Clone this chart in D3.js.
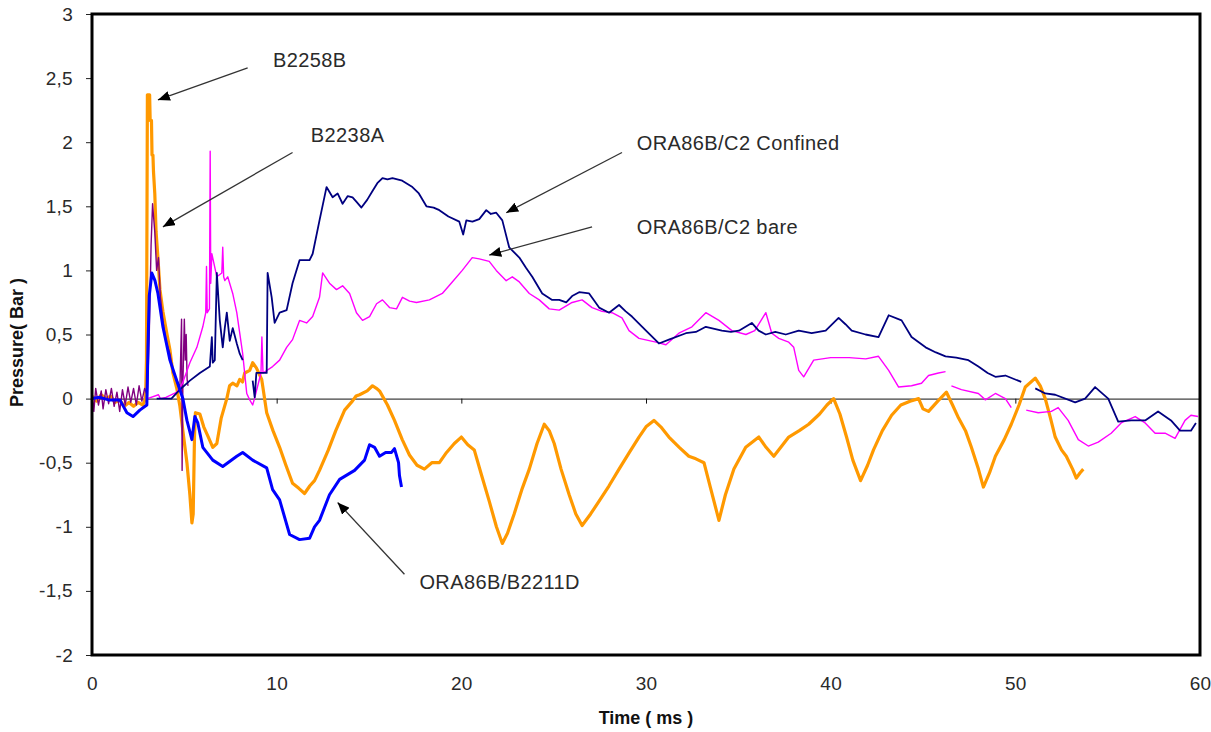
<!DOCTYPE html>
<html>
<head>
<meta charset="utf-8">
<script src="https://cdn.jsdelivr.net/npm/d3@7"></script>
<style>
  body { margin: 0; background: #fff; }
  svg { display: block; font-family: "Liberation Sans", Arial, sans-serif; }
</style>
</head>
<body>
<svg id="chart" width="1211" height="732"></svg>
<script>
// Time axis (ms) and pressure axis (bar) ticks
const timeTicks = [0, 10, 20, 30, 40, 50, 60];
const pressureTicks = [-2, -1.5, -1, -0.5, 0, 0.5, 1, 1.5, 2, 2.5, 3];

// Pressure records: [time ms, pressure bar]; null marks a gap in the record
const b2258b = [
  [0,0.02],[0.25,-0.02],[0.5,0.03],[0.75,0.0],[1.0,0.02],[1.25,-0.03],[1.5,-0.01],[1.75,-0.06],[2.0,-0.03],
  [2.25,-0.06],[2.5,-0.03],[2.75,-0.05],[2.9,0.0],[2.95,0.3],[3.0,2.37],[3.12,2.37],[3.15,2.17],[3.22,2.17],
  [3.25,1.9],[3.3,1.9],[3.33,1.77],[3.4,1.6],[3.47,1.3],[3.57,1.1],[3.68,0.85],[3.84,0.68],[4.05,0.51],
  [4.22,0.38],[4.38,0.2],[4.59,0.08],[4.76,-0.06],[4.92,-0.25],[5.14,-0.5],[5.3,-0.75],[5.41,-0.97],
  [5.48,-0.9],[5.55,-0.3],[5.6,-0.11],[5.84,-0.12],[6.05,-0.22],[6.3,-0.3],[6.54,-0.38],[6.76,-0.35],
  [7.0,-0.15],[7.3,0.0],[7.45,0.1],[7.62,0.12],[7.85,0.1],[8.0,0.15],[8.15,0.13],[8.27,0.2],[8.54,0.22],
  [8.7,0.28],[8.9,0.24],[9.19,0.15],[9.46,-0.11],[9.8,-0.25],[10.16,-0.38],[10.5,-0.52],[10.86,-0.66],
  [11.2,-0.7],[11.51,-0.74],[11.8,-0.68],[12.05,-0.64],[12.32,-0.56],[12.8,-0.4],[13.2,-0.25],[13.68,-0.09],
  [14.1,-0.02],[14.3,0.02],[14.49,0.03],[14.9,0.06],[15.19,0.1],[15.4,0.08],[15.57,0.06],[16.0,-0.05],
  [16.38,-0.17],[16.8,-0.32],[17.19,-0.44],[17.6,-0.52],[18.0,-0.55],[18.4,-0.5],[18.81,-0.5],[19.2,-0.42],
  [19.62,-0.35],[20.0,-0.3],[20.35,-0.36],[20.7,-0.4],[21.1,-0.6],[21.51,-0.8],[21.9,-1.0],[22.22,-1.13],
  [22.5,-1.05],[22.86,-0.9],[23.3,-0.7],[23.68,-0.55],[24.1,-0.35],[24.49,-0.2],[24.76,-0.25],[25.03,-0.35],
  [25.4,-0.55],[25.84,-0.75],[26.2,-0.9],[26.54,-0.99],[27.0,-0.9],[27.46,-0.8],[28.0,-0.68],[28.54,-0.55],
  [29.1,-0.42],[29.62,-0.3],[30.0,-0.22],[30.43,-0.17],[30.8,-0.22],[31.24,-0.3],[31.8,-0.38],[32.32,-0.45],
  [32.7,-0.47],[33.14,-0.5],[33.5,-0.7],[33.95,-0.95],[34.3,-0.75],[34.76,-0.55],[35.4,-0.38],[36.11,-0.3],
  [36.5,-0.38],[36.92,-0.45],[37.3,-0.38],[37.73,-0.3],[38.3,-0.25],[38.81,-0.2],[39.4,-0.12],[39.8,-0.05],
  [40.16,0.0],[40.5,-0.12],[40.86,-0.3],[41.2,-0.48],[41.62,-0.64],[42.0,-0.52],[42.32,-0.4],[42.8,-0.25],
  [43.3,-0.13],[43.8,-0.05],[44.3,-0.02],[44.76,0.0],[45.0,-0.08],[45.3,-0.1],[45.8,-0.02],[46.27,0.05],
  [46.6,-0.05],[46.92,-0.15],[47.3,-0.25],[47.62,-0.38],[48.0,-0.55],[48.27,-0.69],[48.6,-0.58],[48.92,-0.45],
  [49.4,-0.32],[49.78,-0.2],[50.2,-0.05],[50.54,0.09],[51.08,0.16],[51.35,0.1],[51.62,0.0],[51.9,-0.15],
  [52.16,-0.3],[52.5,-0.4],[52.76,-0.45],[53.1,-0.55],[53.3,-0.62],[53.5,-0.58],[53.68,-0.55]
];

const b2238a = [
  [0,0.05],[0.1,-0.1],[0.2,0.08],[0.35,-0.05],[0.5,0.06],[0.6,-0.08],[0.75,0.07],[0.9,-0.04],[1.05,0.08],
  [1.2,-0.06],[1.35,0.05],[1.5,-0.1],[1.65,0.07],[1.8,-0.05],[1.95,0.09],[2.1,-0.03],[2.25,0.08],[2.4,-0.05],
  [2.55,0.1],[2.7,-0.02],[2.85,0.08],[3.0,0.02],[3.1,0.5],[3.2,1.2],[3.28,1.52],[3.4,1.3],[3.5,1.0],
  [3.6,1.1],[3.7,0.8],[3.84,0.61],[4.0,0.45],[4.22,0.35],[4.4,0.2],[4.59,0.15],[4.76,0.08],[4.85,0.62],
  [4.88,-0.56],[4.92,0.1],[5.0,0.62],[5.05,0.3],[5.1,0.5],[5.15,0.15],[5.2,0.1]
];

const b2211d = [
  [0,0.0],[0.43,0.01],[0.9,-0.01],[1.51,-0.01],[1.89,-0.11],[2.22,-0.14],[2.59,-0.09],[2.97,-0.05],
  [3.03,0.4],[3.1,0.8],[3.24,0.98],[3.41,0.92],[3.57,0.82],[3.84,0.56],[4.22,0.3],[4.59,0.14],[4.92,0.0],
  [5.14,-0.17],[5.41,-0.32],[5.57,-0.14],[5.73,-0.19],[6.0,-0.38],[6.54,-0.48],[7.08,-0.53],[7.84,-0.45],
  [8.16,-0.42],[8.7,-0.48],[9.46,-0.54],[9.78,-0.71],[10.16,-0.79],[10.7,-1.06],[11.24,-1.1],[11.78,-1.09],
  [12.05,-1.0],[12.32,-0.95],[12.86,-0.75],[13.41,-0.63],[14.22,-0.56],[14.76,-0.48],[15.03,-0.36],
  [15.3,-0.38],[15.57,-0.45],[15.9,-0.42],[16.22,-0.42],[16.38,-0.39],[16.6,-0.5],[16.65,-0.6],[16.76,-0.69]
];

const c2Confined = [
  [3.5,0.0],[4.3,0.0],[4.76,0.07],[5.3,0.14],[5.84,0.2],[6.38,0.25],[6.49,0.48],[6.54,0.28],[6.65,0.3],
  [6.76,0.98],[6.92,0.61],[7.08,0.4],[7.19,0.55],[7.3,0.67],[7.46,0.45],[7.62,0.55],[7.84,0.43],[8.0,0.35],
  [8.16,0.3],null,[8.7,0.14],[8.81,0.01],[8.9,0.2],[9.19,0.2],[9.46,0.2],[9.51,0.98],[9.73,0.79],[9.89,0.59],
  [10.16,0.67],[10.54,0.69],[10.86,0.9],[11.24,1.08],[11.78,1.08],[11.95,1.13],[12.32,1.39],[12.7,1.65],
  [13.03,1.57],[13.3,1.6],[13.57,1.52],[13.85,1.58],[14.11,1.57],[14.35,1.53],[14.59,1.49],[14.9,1.55],
  [15.19,1.62],[15.45,1.68],[15.73,1.72],[16.0,1.71],[16.27,1.72],[16.8,1.7],[17.35,1.65],[17.7,1.6],
  [18.11,1.5],[18.5,1.49],[18.81,1.47],[19.3,1.42],[19.89,1.38],[20.1,1.28],[20.27,1.39],[20.6,1.38],
  [20.97,1.4],[21.35,1.47],[21.6,1.44],[21.89,1.45],[22.22,1.39],[22.59,1.18],[23.14,1.1],[23.5,1.02],
  [23.84,0.95],[24.38,0.82],[24.92,0.77],[25.3,0.77],[25.68,0.75],[26.0,0.8],[26.38,0.83],[26.92,0.82],
  [27.46,0.71],[28.0,0.67],[28.54,0.73],[28.9,0.68],[29.24,0.64],[30.0,0.53],[30.7,0.43],[31.24,0.46],
  [32.16,0.51],[32.7,0.52],[33.24,0.56],[34.11,0.53],[34.6,0.52],[35.03,0.53],[35.73,0.59],[36.1,0.53],
  [36.49,0.5],[37.0,0.52],[37.57,0.5],[38.27,0.53],[38.97,0.51],[39.73,0.53],[40.43,0.63],[40.8,0.58],
  [41.14,0.53],[41.89,0.5],[42.59,0.48],[43.14,0.65],[43.84,0.61],[44.38,0.48],[45.14,0.4],[45.7,0.36],
  [46.22,0.33],[46.8,0.32],[47.46,0.3],[48.0,0.25],[48.5,0.2],[48.92,0.17],[49.46,0.18],[50.32,0.13],
  null,[51.08,0.08],[51.62,0.04],[52.16,0.03],[53.24,-0.03],[53.78,0.0],[54.32,0.09],[55.03,0.0],
  [55.57,-0.18],[56.27,-0.17],[57.03,-0.17],[57.73,-0.1],[58.43,-0.17],[58.92,-0.25],[59.51,-0.25],[59.78,-0.19]
];

const c2Bare = [
  [3.0,0.0],[3.6,0.03],[3.7,0.0],[4.0,0.01],[4.6,0.05],[4.9,0.12],[5.3,0.28],[5.68,0.4],[6.0,0.56],
  [6.16,0.67],[6.2,1.03],[6.24,0.67],[6.36,0.7],[6.4,1.93],[6.43,0.9],[6.49,1.13],[6.76,0.95],[7.03,0.98],
  [7.08,1.18],[7.13,0.95],[7.19,0.92],[7.35,0.95],[7.62,0.82],[7.84,0.67],[8.0,0.51],[8.16,0.35],
  [8.38,0.04],[8.54,-0.01],[8.7,-0.05],[8.8,0.0],[9.15,0.2],[9.2,0.48],[9.26,0.2],[9.78,0.25],[10.16,0.3],
  [10.54,0.4],[10.86,0.46],[11.24,0.61],[11.62,0.59],[11.95,0.64],[12.32,0.79],[12.49,0.98],[12.86,0.9],
  [13.24,0.85],[13.57,0.88],[13.95,0.82],[14.32,0.67],[14.65,0.61],[15.03,0.64],[15.41,0.74],[15.73,0.77],
  [16.11,0.71],[16.49,0.7],[16.81,0.79],[17.2,0.76],[17.57,0.75],[18.27,0.77],[18.97,0.82],[19.51,0.91],
  [20.05,1.0],[20.59,1.1],[20.97,1.09],[21.51,1.07],[21.89,1.0],[22.43,0.92],[22.76,0.95],[23.14,0.91],
  [23.68,0.82],[24.22,0.77],[24.76,0.7],[25.3,0.69],[26.0,0.75],[26.54,0.77],[27.08,0.71],[27.62,0.68],
  [28.16,0.67],[28.7,0.63],[29.08,0.53],[29.62,0.47],[30.54,0.44],[31.08,0.42],[31.78,0.51],[32.49,0.56],
  [33.24,0.67],[33.95,0.61],[34.65,0.53],[35.41,0.5],[35.89,0.53],[36.49,0.67],[36.81,0.51],[37.19,0.47],
  [37.73,0.44],[38.0,0.4],[38.27,0.22],[38.54,0.17],[39.08,0.3],[40.0,0.32],[41.0,0.32],[41.9,0.31],
  [42.59,0.33],[43.14,0.22],[43.68,0.09],[44.38,0.1],[44.92,0.12],[45.3,0.18],[45.84,0.2],[46.22,0.21],null,
  [46.54,0.1],[47.08,0.07],[48.0,0.04],[48.38,-0.01],[48.92,0.04],[49.46,0.0],[49.78,-0.07],null,
  [50.59,-0.09],[51.24,-0.11],[51.95,-0.1],[52.32,-0.07],[52.86,-0.17],[53.41,-0.32],[53.95,-0.37],
  [54.49,-0.34],[55.19,-0.27],[55.73,-0.19],[56.49,-0.14],[57.03,-0.19],[57.57,-0.27],[58.11,-0.27],
  [58.65,-0.31],[59.19,-0.17],[59.51,-0.13],[59.89,-0.14]
];

// Callout labels: text anchor point and arrow (from -> tip), all in data units
const callouts = [
  { label: "B2258B",             text: [9.8, 2.64],    from: [8.43, 2.58],   to: [3.57, 2.33] },
  { label: "B2238A",             text: [11.85, 2.06],  from: [10.86, 1.92],  to: [3.84, 1.34] },
  { label: "ORA86B/C2 Confined", text: [29.5, 1.99],   from: [28.7, 1.92],   to: [22.43, 1.45] },
  { label: "ORA86B/C2 bare",     text: [29.5, 1.34],   from: [27.08, 1.34],  to: [21.51, 1.12] },
  { label: "ORA86B/B2211D",      text: [17.73, -1.43], from: [16.92, -1.37], to: [13.3, -0.81] }
];

// ---- drawing ----
const svg = d3.select("#chart");
const plot = { left: 92, top: 14, right: 1200, bottom: 655 };
const fontFamily = '"Liberation Sans", Arial, sans-serif';

const x = d3.scaleLinear().domain([0, 60]).range([plot.left, plot.right]);
const y = d3.scaleLinear().domain([-2, 3]).range([plot.bottom, plot.top]);
const commaFmt = d => String(d).replace(".", ",");

// Y axis with outside ticks
const yAxis = svg.append("g")
  .attr("transform", `translate(${plot.left},0)`)
  .call(d3.axisLeft(y).tickValues(pressureTicks).tickSize(6).tickPadding(13).tickFormat(commaFmt));
yAxis.select(".domain").remove();
yAxis.selectAll("line").attr("stroke", "#222");
yAxis.selectAll("text").attr("font-size", 19).attr("fill", "#2a2a2a")
  .attr("font-family", fontFamily).attr("letter-spacing", 0.3);

// X tick labels along the bottom of the plot
const xAxis = svg.append("g")
  .attr("transform", `translate(0,${plot.bottom})`)
  .call(d3.axisBottom(x).tickValues(timeTicks).tickSize(0).tickPadding(22).tickFormat(d3.format("d")));
xAxis.select(".domain").remove();
xAxis.selectAll("text").attr("font-size", 19).attr("fill", "#2a2a2a")
  .attr("font-family", fontFamily).attr("letter-spacing", 0.3);

// Zero-pressure axis line with its tick marks
const zeroAxis = svg.append("g")
  .attr("transform", `translate(0,${y(0)})`)
  .call(d3.axisBottom(x).tickValues(timeTicks.slice(1, -1)).tickSize(5).tickSizeOuter(0).tickFormat(""));
zeroAxis.select(".domain").attr("stroke", "#111").attr("stroke-width", 1);
zeroAxis.selectAll("line").attr("stroke", "#111");

// Traces
const line = d3.line()
  .defined(d => d !== null)
  .x(d => x(d[0]))
  .y(d => y(d[1]));

const traces = [
  { data: b2258b,     color: "#FF9900", width: 3.2 },
  { data: b2238a,     color: "#800080", width: 1.4 },
  { data: c2Bare,     color: "#FF00FF", width: 1.4 },
  { data: c2Confined, color: "#000080", width: 1.8 },
  { data: b2211d,     color: "#0000FF", width: 3.0 }
];

svg.append("clipPath").attr("id", "plotclip").append("rect")
  .attr("x", plot.left).attr("y", plot.top)
  .attr("width", plot.right - plot.left).attr("height", plot.bottom - plot.top);

const traceLayer = svg.append("g").attr("clip-path", "url(#plotclip)");
traces.forEach(t => {
  traceLayer.append("path")
    .datum(t.data)
    .attr("d", line)
    .attr("fill", "none")
    .attr("stroke", t.color)
    .attr("stroke-width", t.width)
    .attr("stroke-linejoin", "round");
});

// Plot frame
svg.append("rect")
  .attr("x", plot.left).attr("y", plot.top)
  .attr("width", plot.right - plot.left).attr("height", plot.bottom - plot.top)
  .attr("fill", "none").attr("stroke", "#000").attr("stroke-width", 3);

// Arrow heads
svg.append("defs").append("marker")
  .attr("id", "arrowhead")
  .attr("viewBox", "0 0 12 10")
  .attr("refX", 12).attr("refY", 5)
  .attr("markerWidth", 12).attr("markerHeight", 10)
  .attr("markerUnits", "userSpaceOnUse")
  .attr("orient", "auto")
  .append("path").attr("d", "M0,0 L12,5 L0,10 Z").attr("fill", "#000");

const notes = svg.append("g");
callouts.forEach(c => {
  notes.append("line")
    .attr("x1", x(c.from[0])).attr("y1", y(c.from[1]))
    .attr("x2", x(c.to[0])).attr("y2", y(c.to[1]))
    .attr("stroke", "#333").attr("stroke-width", 1.3)
    .attr("marker-end", "url(#arrowhead)");
  notes.append("text")
    .attr("x", x(c.text[0])).attr("y", y(c.text[1]))
    .attr("dy", "0.35em")
    .attr("font-size", 20).attr("letter-spacing", 0.4).attr("fill", "#2a2a2a")
    .text(c.label);
});

// Axis titles
svg.append("text")
  .attr("x", (plot.left + plot.right) / 2).attr("y", 724)
  .attr("text-anchor", "middle")
  .attr("font-size", 18).attr("font-weight", "bold").attr("fill", "#111")
  .text("Time ( ms )");

svg.append("text")
  .attr("transform", `translate(23,${(plot.top + plot.bottom) / 2 + 8}) rotate(-90)`)
  .attr("text-anchor", "middle")
  .attr("font-size", 18).attr("font-weight", "bold").attr("fill", "#111")
  .text("Pressure( Bar )");
</script>
</body>
</html>
